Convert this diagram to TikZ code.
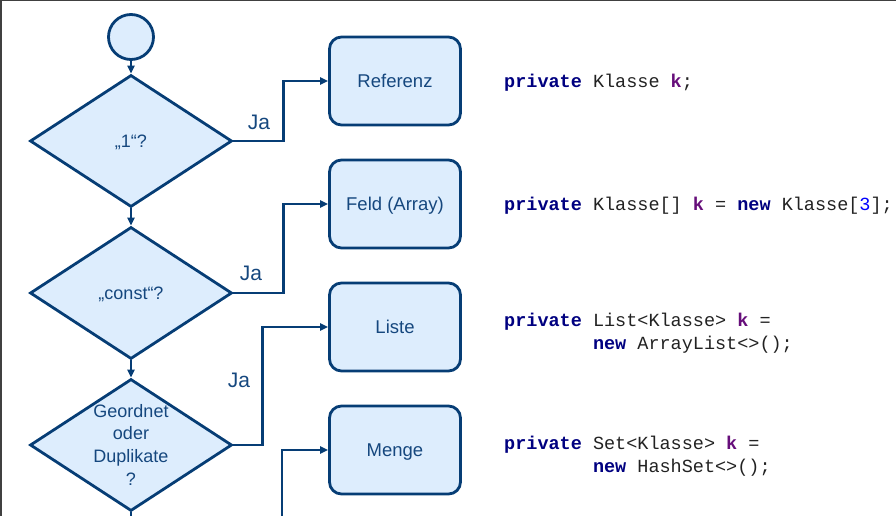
\documentclass[tikz,border=0pt]{standalone}
\usepackage{fontspec}
\setmainfont{Liberation Sans}
\setmonofont{Liberation Mono}
\usetikzlibrary{shapes.geometric, arrows.meta}

\definecolor{lineColour}{HTML}{063D75}
\definecolor{textColour}{HTML}{15477E}
\definecolor{fillColour}{HTML}{DDEDFD}
\definecolor{frameColour}{HTML}{404040}
\definecolor{codeColour}{HTML}{222222}
\definecolor{kwColour}{HTML}{000080}
\definecolor{varColour}{HTML}{660E7A}
\definecolor{numColour}{HTML}{0000FF}

% keyword, field name and number in the code lines
\newcommand{\kw}[1]{\textbf{\textcolor{kwColour}{#1}}}
\newcommand{\fld}[1]{\textbf{\textcolor{varColour}{#1}}}
\newcommand{\num}[1]{\textcolor{numColour}{#1}}
% text inside a decision, it does not change the size of the diamond
\newcommand{\dectext}[1]{\smash{\makebox[0pt]{\raisebox{-6pt}{\begin{tabular}{@{}c@{}}#1\end{tabular}}}}}

\tikzset{
    startnode/.style={circle, draw=lineColour, fill=fillColour, line width=2.8pt,
        minimum size=45pt, inner sep=0pt},
    decision/.style={diamond, draw=lineColour, fill=fillColour, line width=2.8pt,
        minimum width=202pt, minimum height=132pt, inner sep=0pt,
        text=textColour, font=\fontsize{18}{22.7}\selectfont},
    kindbox/.style={rectangle, rounded corners=12pt, draw=lineColour, fill=fillColour,
        line width=2.8pt, minimum width=131pt, minimum height=88pt,
        text height=12.5pt, text depth=0pt,
        text=textColour, font=\fontsize{18.5}{22}\selectfont},
    yeslabel/.style={text=textColour, font=\fontsize{21}{25}\selectfont},
    codeline/.style={anchor=west, align=left, inner sep=0pt, text=codeColour,
        font=\ttfamily\fontsize{18.5}{23}\selectfont},
    flow/.style={draw=lineColour, line width=2.5pt,
        -{Triangle[length=8pt,width=7pt]}},
}

\begin{document}
\begin{tikzpicture}[x=1pt, y=-1pt]
    % Fix the picture size
    \useasboundingbox (0,0) rectangle (896,516);

    % Frame round the slide
    \draw[frameColour, line width=1.5pt] (0.75,516) -- (0.75,0.75) -- (896,0.75);

    % Start and decisions
    \node[startnode] (start) at (131,37) {};
    \node[decision] (dOne) at (131,141) {\dectext{„1“?}};
    \node[decision] (dConst) at (131,293) {\dectext{„const“?}};
    \node[decision] (dOrder) at (131,445) {\dectext{Geordnet\\oder\\Duplikate\\?}};

    % Kinds of association
    \node[kindbox] (ref) at (395,81) {Referenz};
    \node[kindbox] (arr) at (395,204) {Feld (Array)};
    \node[kindbox] (list) at (395,327) {Liste};
    \node[kindbox] (set) at (395,450) {Menge};

    % Free ends at the lower edge
    \coordinate (outDown) at (131,516);
    \coordinate (inSet) at (282,516);

    % Flow downwards
    \draw[flow] (start) -- (dOne);
    \draw[flow] (dOne) -- (dConst);
    \draw[flow] (dConst) -- (dOrder);
    \draw[draw=lineColour, line width=2.5pt] (dOrder.south) -- (outDown);

    % Yes branches
    \draw[flow] (dOne.east) -- ++(50,0) |- (ref.west);
    \draw[flow] (dConst.east) -- ++(50,0) |- (arr.west);
    \draw[flow] (dOrder.east) -- ++(29,0) |- (list.west);
    \draw[flow] (inSet) |- (set.west);
    \node[yeslabel] (jaOne) at (259,122) {Ja};
    \node[yeslabel] (jaConst) at (251,273) {Ja};
    \node[yeslabel] (jaOrder) at (239,380) {Ja};

    % Code for each kind
    \node[codeline] (codeRef) at (504,82.5) {\kw{private} Klasse \fld{k};};
    \node[codeline] (codeArr) at (504,205.5) {\kw{private} Klasse[] \fld{k} = \kw{new} Klasse[\num{3}];};
    \node[codeline] (codeList) at (504,333.5) {\kw{private} List<Klasse> \fld{k} =\\
        \hphantom{private\ }\kw{new} ArrayList<>();};
    \node[codeline] (codeSet) at (504,456.5) {\kw{private} Set<Klasse> \fld{k} =\\
        \hphantom{private\ }\kw{new} HashSet<>();};

\end{tikzpicture}
\end{document}
